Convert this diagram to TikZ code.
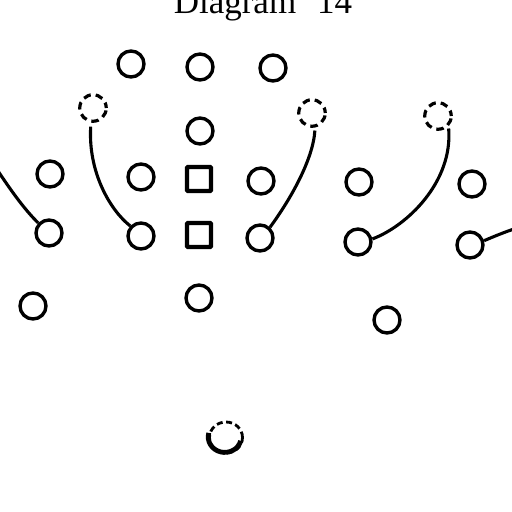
\documentclass[tikz,border=0pt]{standalone}
\usepackage{fontspec}
\usetikzlibrary{shapes.geometric}
\newfontfamily\titlefont{Liberation Serif}
\begin{document}
\begin{tikzpicture}[x=1pt,y=-1pt,
  player/.style={circle,draw,line width=3.4pt,minimum size=26pt,inner sep=0pt},
  ghost/.style={circle,draw,line width=3.2pt,dash pattern=on 7.5pt off 5pt,dash phase=2pt,minimum size=26.5pt,inner sep=0pt},
  centre/.style={rectangle,draw,line width=4.4pt,minimum size=24pt,inner sep=0pt,rounded corners=1pt},
  route/.style={line width=3.1pt},
  ballshape/.style={ellipse,draw,line width=2.8pt,dash pattern=on 6pt off 3.5pt,minimum width=33pt,minimum height=31pt,inner sep=0pt},
  ballrim/.style={line width=4.8pt}]
\useasboundingbox (0,0) rectangle (512,512);
\clip (0,0) rectangle (512,512);
\node[anchor=base,font=\titlefont\fontsize{35}{40}\selectfont] (title) at (263,13) {Diagram\hspace{0.6em}14};
% top row
\node[player] (T1) at (131,64) {};
\node[player] (T2) at (200,67) {};
\node[player] (T3) at (273,68) {};
% dashed positions
\node[ghost] (D1) at (93,108) {};
\node[ghost] (D2) at (312,113) {};
\node[ghost] (D3) at (438,116) {};
\node[player] (C) at (200,131) {};
% row 1
\node[player] (A1) at (50,174) {};
\node[player] (B1) at (141,177) {};
\node[centre] (S1) at (199,179) {};
\node[player] (E1) at (261,181) {};
\node[player] (F1) at (359,182) {};
\node[player] (G1) at (472,184) {};
% row 2
\node[player] (A2) at (49,233) {};
\node[player] (B2) at (141,236) {};
\node[centre] (S2) at (199,235) {};
\node[player] (E2) at (260,238) {};
\node[player] (F2) at (358,242) {};
\node[player] (G2) at (470,245) {};
% back
\node[player] (K1) at (33,306) {};
\node[player] (K2) at (199,298) {};
\node[player] (K3) at (387,320) {};
% ball
\node[ballshape] (ball) at (226,437.5) {};
\draw[ballrim] (ball.165) arc[start angle=165,end angle=345,x radius=16.5pt,y radius=15.5pt];
% routes
\coordinate (edgeL) at (-2,171);
\coordinate (edgeR) at (514,229);
\draw[route] (edgeL) .. controls (12,192) and (25,210) .. (A2.137);
\draw[route,shorten >=4pt] (B2.137) .. controls (110,210) and (88,172) .. (D1.262);
\draw[route,shorten >=3pt] (E2.47) .. controls (290,200) and (313,160) .. (D2.282);
\draw[route,shorten >=2pt] (F2.12) .. controls (407,226) and (453,182) .. (D3.315);
\draw[route] (G2.17) .. controls (495,236) and (505,232) .. (edgeR);
\end{tikzpicture}
\end{document}
